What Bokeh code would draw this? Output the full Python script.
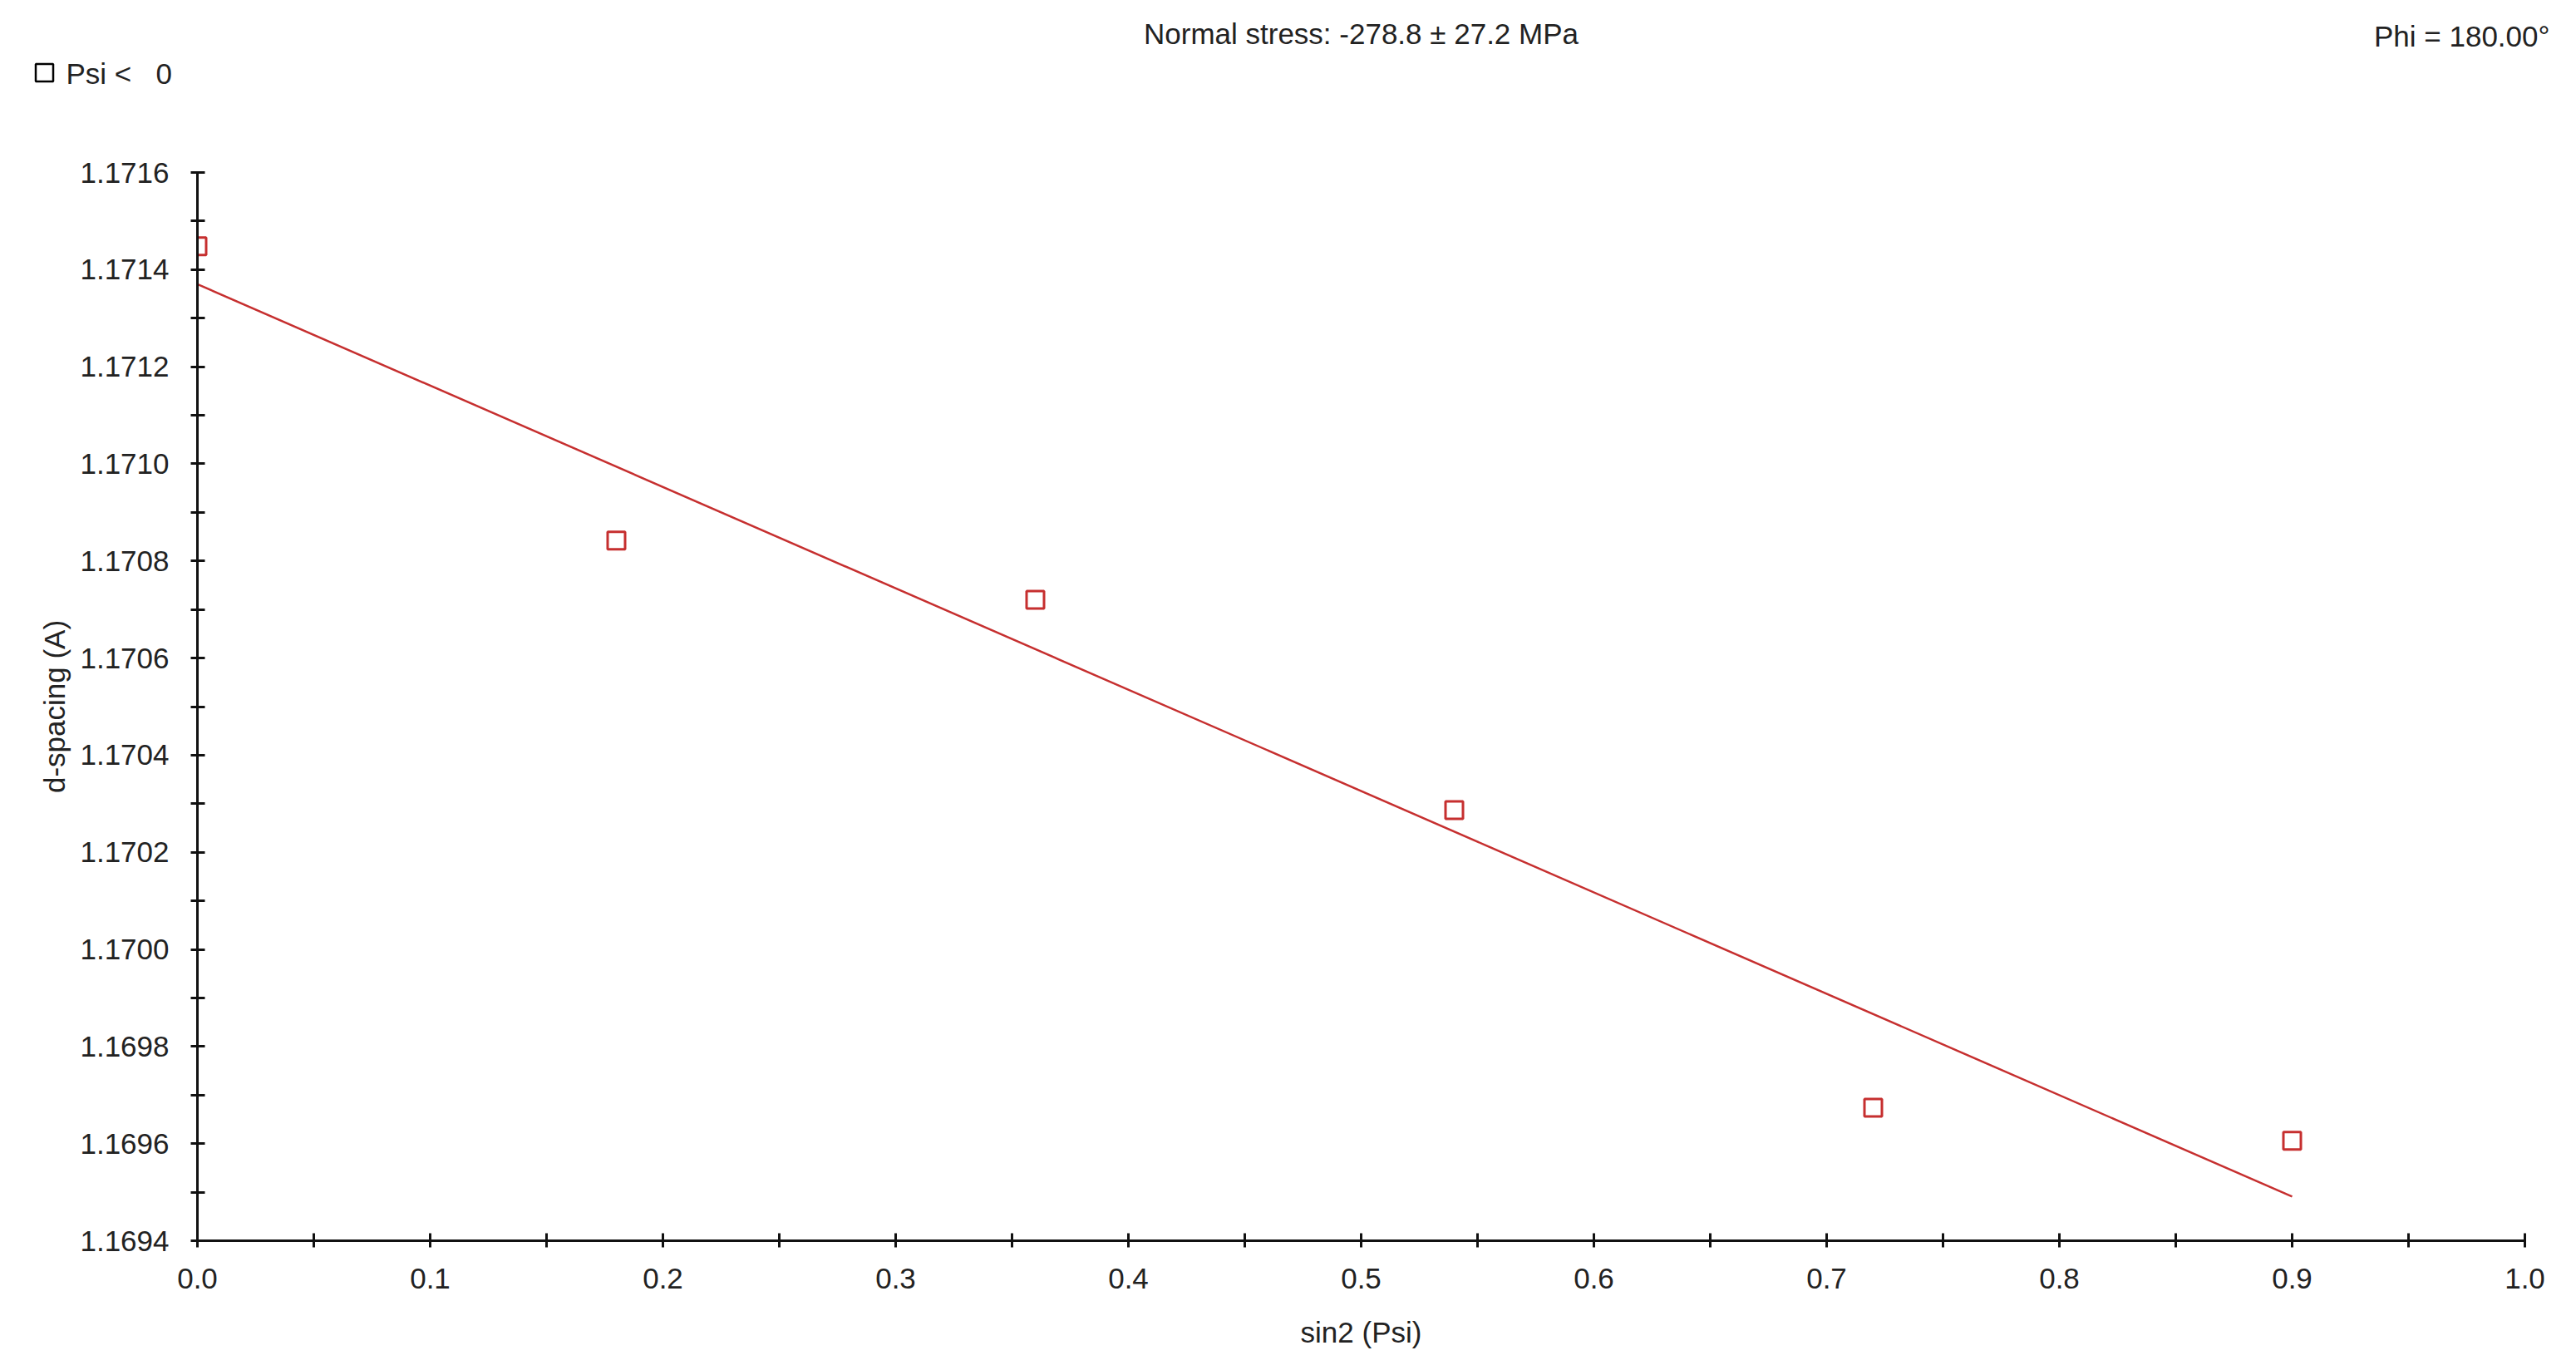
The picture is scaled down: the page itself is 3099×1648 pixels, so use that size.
from bokeh.plotting import figure
from bokeh.layouts import column
from bokeh.models import Range1d, FixedTicker, PrintfTickFormatter
from bokeh.core.properties import value
from bokeh.embed import file_html
from bokeh.resources import INLINE

# ---- data ----
sin2_psi = [0.0, 0.18, 0.36, 0.54, 0.72, 0.90]
d_spacing = [1.171448, 1.170842, 1.170720, 1.170287, 1.169674, 1.169606]
fit_x = [0.0, 0.90]
fit_y = [1.171370, 1.169491]
x_ticks = [0.0, 0.1, 0.2, 0.3, 0.4, 0.5, 0.6, 0.7, 0.8, 0.9, 1.0]
x_minor = [0.05, 0.15, 0.25, 0.35, 0.45, 0.55, 0.65, 0.75, 0.85, 0.95]
y_ticks = [1.1694, 1.1696, 1.1698, 1.1700, 1.1702, 1.1704, 1.1706, 1.1708,
           1.1710, 1.1712, 1.1714, 1.1716]
y_minor = [1.1695, 1.1697, 1.1699, 1.1701, 1.1703, 1.1705, 1.1707, 1.1709,
           1.1711, 1.1713, 1.1715]
title_text = "Normal stress: -278.8 \u00b1 27.2 MPa"
phi_text = "Phi = 180.00\u00b0"
legend_text = "Psi <\u00a0\u00a0 0"
x_label = "sin2 (Psi)"
y_label = "d-spacing (A)"

FONT = "Liberation Sans"
FS = "35px"
TXT = "#222222"
RED = "#c62f2f"

W = 3083
HEAD_H = 150
MAIN_H = 1632 - HEAD_H
BL, BR = 237, 46          # left / right borders of the plot frame
BT = 207 - HEAD_H         # top border of main figure
BB = 140

# ---- header strip (title, Phi, legend) ----
head = figure(width=W, height=HEAD_H, output_backend="svg", toolbar_location=None,
              x_range=Range1d(0, W), y_range=Range1d(HEAD_H, 0),
              x_axis_type=None, y_axis_type=None, min_border=0)
head.frame_align = False
head.outline_line_color = None
head.xgrid.visible = False
head.ygrid.visible = False

frame_center = BL + (W - BL - BR) / 2
head.text(x=[frame_center], y=[40], text=[title_text], text_align="center",
          text_baseline="middle", text_font=value(FONT), text_font_size=FS,
          text_color=TXT)
head.text(x=[3067], y=[43], text=[phi_text], text_align="right",
          text_baseline="middle", text_font=value(FONT), text_font_size=FS,
          text_color=TXT)
head.scatter(x=[53], y=[87], marker="square", size=21, fill_color="white",
             line_color="black", line_width=2.5)
head.text(x=[79], y=[88], text=[legend_text], text_align="left",
          text_baseline="middle", text_font=value(FONT), text_font_size=FS,
          text_color=TXT)

# ---- main plot ----
p = figure(width=W, height=MAIN_H, output_backend="svg", toolbar_location=None,
           x_range=Range1d(0.0, 1.0), y_range=Range1d(1.1694, 1.1716),
           min_border_left=BL, min_border_right=BR, min_border_top=BT,
           min_border_bottom=BB)
p.frame_align = False
p.outline_line_color = None
p.xgrid.visible = False
p.ygrid.visible = False

p.line(fit_x, fit_y, line_color=RED, line_width=2.5)
p.scatter(sin2_psi, d_spacing, marker="square", size=21, fill_color="white",
          line_color=RED, line_width=3)

for ax, ticks, minor, fmt in ((p.xaxis[0], x_ticks, x_minor, "%.1f"),
                              (p.yaxis[0], y_ticks, y_minor, "%.4f")):
    ax.ticker = FixedTicker(ticks=ticks, minor_ticks=minor)
    ax.formatter = PrintfTickFormatter(format=fmt)
    ax.axis_line_color = "#111111"
    ax.axis_line_width = 3
    ax.major_tick_line_color = "#111111"
    ax.major_tick_line_width = 3
    ax.minor_tick_line_color = "#111111"
    ax.minor_tick_line_width = 3
    ax.major_tick_in = 9
    ax.major_tick_out = 8
    ax.minor_tick_in = 9
    ax.minor_tick_out = 8
    ax.major_label_text_font = FONT
    ax.major_label_text_font_size = FS
    ax.major_label_text_color = TXT
    ax.axis_label_text_font = FONT
    ax.axis_label_text_font_size = FS
    ax.axis_label_text_font_style = "normal"
    ax.axis_label_text_color = TXT

p.xaxis.axis_label = x_label
p.yaxis.axis_label = y_label
p.xaxis.major_label_standoff = 25
p.xaxis.axis_label_standoff = 30
p.yaxis.major_label_standoff = 26
p.yaxis.axis_label_standoff = 8

layout = column(head, p, spacing=0)
open("out.html", "w").write(file_html(layout, INLINE))
